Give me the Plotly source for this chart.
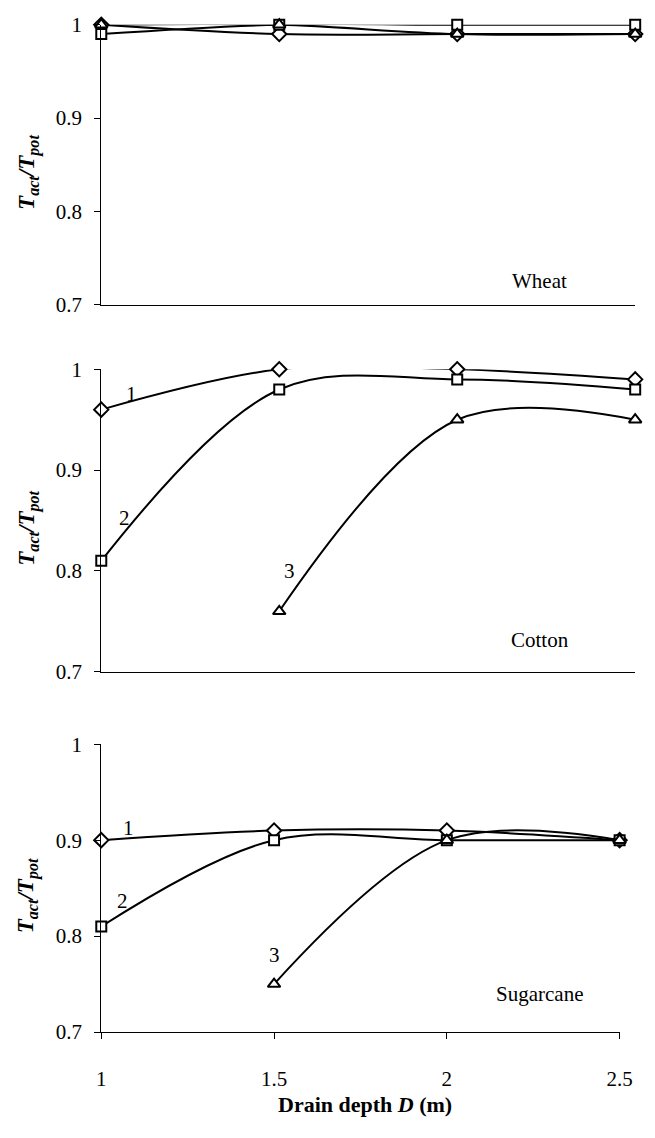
import plotly.graph_objects as go

# Drain depth (m)
depth = [1.0, 1.5, 2.0, 2.5]
depth_3 = [1.5, 2.0, 2.5]

# Relative transpiration T_act/T_pot for each crop and curve (1, 2, 3)
wheat_1 = [1.00, 0.99, 0.99, 0.99]
wheat_2 = [0.99, 1.00, 1.00, 1.00]
wheat_3 = [1.00, 1.00, 0.99, 0.99]

cotton_1 = [0.96, 1.00, 1.00, 0.99]
cotton_2 = [0.81, 0.98, 0.99, 0.98]
cotton_3 = [0.76, 0.95, 0.95]

sugar_1 = [0.90, 0.91, 0.91, 0.90]
sugar_2 = [0.81, 0.90, 0.90, 0.90]
sugar_3 = [0.75, 0.90, 0.90]

y_ticks = [0.7, 0.8, 0.9, 1.0]
y_tick_text = ["0.7", "0.8", "0.9", "1"]
x_ticks = [1.0, 1.5, 2.0, 2.5]
x_tick_text = ["1", "1.5", "2", "2.5"]
crop_names = ["Wheat", "Cotton", "Sugarcane"]

W, H = 655, 1138
FONT = "Liberation Serif"


def px_x(p):
    return p / W


def px_y(p):
    return 1 - p / H


def curve(x, y, symbol, xa, ya, size):
    return go.Scatter(
        x=x, y=y, xaxis=xa, yaxis=ya, mode="lines+markers",
        line=dict(color="black", width=2, shape="spline", smoothing=1),
        marker=dict(symbol=symbol, size=size, color="white",
                    line=dict(color="black", width=2)),
        cliponaxis=False, showlegend=False,
    )


fig = go.Figure()
panels = [
    ("x", "y", wheat_1, wheat_2, wheat_3, depth),
    ("x2", "y2", cotton_1, cotton_2, cotton_3, depth_3),
    ("x3", "y3", sugar_1, sugar_2, sugar_3, depth_3),
]
for xa, ya, s1, s2, s3, x3 in panels:
    fig.add_trace(curve(depth, s1, "diamond", xa, ya, 11))
    fig.add_trace(curve(depth, s2, "square", xa, ya, 10))
    fig.add_trace(curve(x3, s3, "triangle-up", xa, ya, 11))

# Panel geometry in pixels: (left, right, top, bottom)
boxes = [(99, 648, 13, 299), (99, 648, 365, 674), (99, 632, 748, 1042)]

axis_common = dict(showgrid=False, zeroline=False, showline=True,
                   linecolor="black", linewidth=1)

layout = dict(
    width=W, height=H, margin=dict(l=0, r=0, t=0, b=0),
    paper_bgcolor="white", plot_bgcolor="white",
    font=dict(family=FONT, color="black", size=20),
)
for i, (l, r, t, b) in enumerate(boxes):
    sfx = "" if i == 0 else str(i + 1)
    last = i == 2
    xa = dict(
        axis_common, domain=[px_x(l), px_x(r)], range=[1, 2.5],
        anchor="y" + sfx, showticklabels=last,
    )
    if last:
        xa.update(tickvals=x_ticks, ticktext=x_tick_text, ticks="outside",
                  ticklen=6, tickcolor="black", ticklabelstandoff=22,
                  tickfont=dict(size=21, family=FONT))
    else:
        xa.update(ticks="")
    layout["xaxis" + sfx] = xa
    layout["yaxis" + sfx] = dict(
        axis_common, domain=[px_y(b), px_y(t)], range=[0.7, 1.0],
        anchor="x" + sfx,
        tickvals=y_ticks, ticktext=y_tick_text,
        ticks="outside", ticklen=6, tickcolor="black",
        ticklabelstandoff=8, tickfont=dict(size=21, family=FONT),
    )
fig.update_layout(**layout)

annotations = []
# Y-axis titles
for (l, r, t, b) in boxes:
    annotations.append(dict(
        x=px_x(24), y=px_y((t + b) / 2 + 8), xref="paper", yref="paper",
        text="<b><i>T<sub>act</sub>/T<sub>pot</sub></i></b>",
        textangle=-90, showarrow=False, font=dict(size=23, family=FONT),
        xanchor="center", yanchor="middle",
    ))
# Crop names
for name, ypix in zip(crop_names, [275, 642, 1003]):
    annotations.append(dict(
        x=px_x(550), y=px_y(ypix), xref="paper", yref="paper", text=name,
        showarrow=False, font=dict(size=21, family=FONT),
        xanchor="center", yanchor="middle",
    ))
# Curve numbers
curve_labels = [
    ("x2", "y2", 1.085, 0.976, "1"),
    ("x2", "y2", 1.065, 0.853, "2"),
    ("x2", "y2", 1.53, 0.80, "3"),
    ("x3", "y3", 1.08, 0.913, "1"),
    ("x3", "y3", 1.06, 0.837, "2"),
    ("x3", "y3", 1.50, 0.78, "3"),
]
for xa, ya, xv, yv, txt in curve_labels:
    annotations.append(dict(
        x=xv, y=yv, xref=xa, yref=ya, text=txt, showarrow=False,
        font=dict(size=21, family=FONT), xanchor="center", yanchor="middle",
    ))
# X-axis title
annotations.append(dict(
    x=px_x(370), y=px_y(1116), xref="paper", yref="paper",
    text="<b>Drain depth <i>D</i> (m)</b>", showarrow=False,
    font=dict(size=22, family=FONT), xanchor="center", yanchor="middle",
))
fig.update_layout(annotations=annotations)

fig.write_html("out.html")
